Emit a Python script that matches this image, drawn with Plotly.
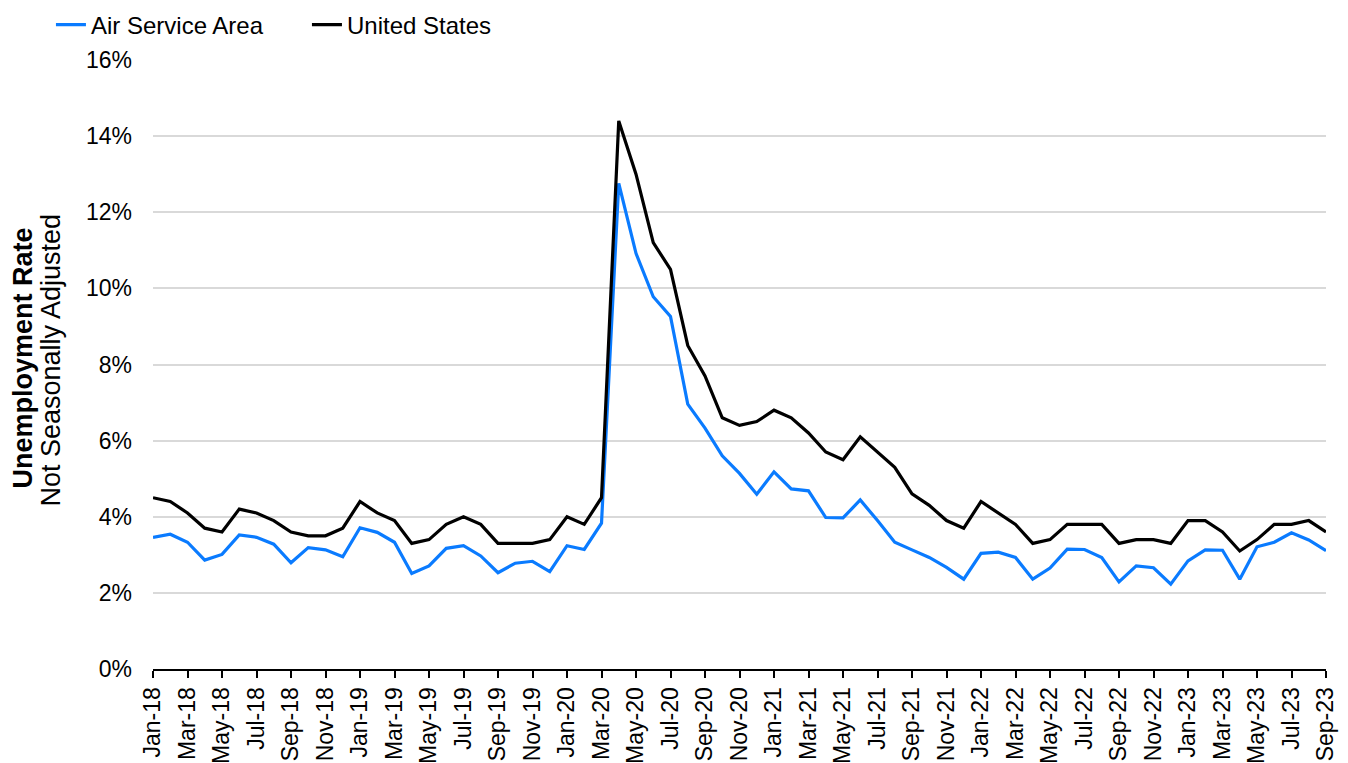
import plotly.graph_objects as go

months = [f"{m}-{y}" for y in ["18", "19", "20", "21", "22", "23"]
          for m in ["Jan", "Feb", "Mar", "Apr", "May", "Jun", "Jul", "Aug", "Sep", "Oct", "Nov", "Dec"]][:69]

air_service_area = [3.46, 3.54, 3.33, 2.86, 3.01, 3.52, 3.46, 3.28, 2.79, 3.19, 3.13, 2.95,
                    3.71, 3.59, 3.33, 2.51, 2.71, 3.17, 3.24, 2.97, 2.53, 2.78, 2.83, 2.56,
                    3.24, 3.14, 3.83, 12.76, 10.92, 9.78, 9.26, 6.96, 6.33, 5.60, 5.14, 4.59,
                    5.18, 4.73, 4.68, 3.98, 3.97, 4.44, 3.90, 3.33, 3.13, 2.93, 2.67, 2.36,
                    3.04, 3.07, 2.93, 2.36, 2.65, 3.15, 3.14, 2.93, 2.29, 2.71, 2.66, 2.23,
                    2.84, 3.13, 3.12, 2.36, 3.21, 3.33, 3.58, 3.39, 3.11]

united_states = [4.5, 4.4, 4.1, 3.7, 3.6, 4.2, 4.1, 3.9, 3.6, 3.5, 3.5, 3.7,
                 4.4, 4.1, 3.9, 3.3, 3.4, 3.8, 4.0, 3.8, 3.3, 3.3, 3.3, 3.4,
                 4.0, 3.8, 4.5, 14.4, 13.0, 11.2, 10.5, 8.5, 7.7, 6.6, 6.4, 6.5,
                 6.8, 6.6, 6.2, 5.7, 5.5, 6.1, 5.7, 5.3, 4.6, 4.3, 3.9, 3.7,
                 4.4, 4.1, 3.8, 3.3, 3.4, 3.8, 3.8, 3.8, 3.3, 3.4, 3.4, 3.3,
                 3.9, 3.9, 3.6, 3.1, 3.4, 3.8, 3.8, 3.9, 3.6]

y_ticks = [0, 2, 4, 6, 8, 10, 12, 14, 16]
y_tick_labels = [f"{v}%" for v in y_ticks]

x_index = list(range(len(months)))
x_tick_vals = x_index[::2]
x_tick_labels = months[::2]

title_bold = "Unemployment Rate"
title_regular = "Not Seasonally Adjusted"

FONT = "Liberation Sans, Arial, sans-serif"

fig = go.Figure()
fig.add_trace(go.Scatter(x=x_index, y=air_service_area, mode="lines", name="Air Service Area",
                         line=dict(color="#0A7BFF", width=3.2)))
fig.add_trace(go.Scatter(x=x_index, y=united_states, mode="lines", name="United States",
                         line=dict(color="#000000", width=3.2)))

# page body adds an 8px margin, so the figure is 8px smaller and offsets compensate
fig.update_layout(
    width=1340, height=755,
    margin=dict(l=145, r=22, t=52, b=94, autoexpand=False),
    plot_bgcolor="white", paper_bgcolor="white",
    font=dict(family=FONT, size=23, color="#000000"),
    showlegend=True,
    legend=dict(orientation="h", x=-0.087, xanchor="left", y=1.0575, yanchor="middle",
                font=dict(size=24, family=FONT),
                entrywidth=211, entrywidthmode="pixels",
                bgcolor="rgba(0,0,0,0)"),
    hovermode=False,
)

fig.update_layout(
    xaxis=dict(
        type="linear", range=[0, len(months) - 1], automargin=False,
        tickmode="array", tickvals=x_tick_vals, ticktext=x_tick_labels,
        tickangle=-90, ticks="outside", ticklen=7, tickwidth=2, tickcolor="#000000",
        showline=True, linecolor="#000000", linewidth=2,
        showgrid=False, zeroline=False,
        tickfont=dict(size=23, family=FONT, color="#000000"),
    ),
    xaxis2=dict(
        type="linear", overlaying="x", anchor="y", side="bottom", matches="x",
        range=[0, len(months) - 1], automargin=False,
        tickmode="array", tickvals=x_tick_vals, showticklabels=False,
        ticks="inside", ticklen=7, tickwidth=2, tickcolor="#000000",
        showline=False, showgrid=False, zeroline=False,
    ),
    yaxis=dict(
        range=[0, 16], tickmode="array", tickvals=y_ticks, ticktext=y_tick_labels,
        automargin=False,
        showgrid=True, gridcolor="#d9d9d9", gridwidth=2,
        showline=False, zeroline=False, ticks="", ticklabelstandoff=20,
        tickfont=dict(size=23, family=FONT, color="#000000"),
    ),
)

fig.add_annotation(
    text=f"<b>{title_bold}</b>",
    xref="paper", yref="paper", x=-0.1108, y=0.510, xanchor="center", yanchor="middle",
    textangle=-90, showarrow=False,
    font=dict(size=27, family=FONT, color="#000000"),
)
fig.add_annotation(
    text=title_regular,
    xref="paper", yref="paper", x=-0.087, y=0.508, xanchor="center", yanchor="middle",
    textangle=-90, showarrow=False,
    font=dict(size=27, family=FONT, color="#000000"),
)

fig.write_html("out.html")
